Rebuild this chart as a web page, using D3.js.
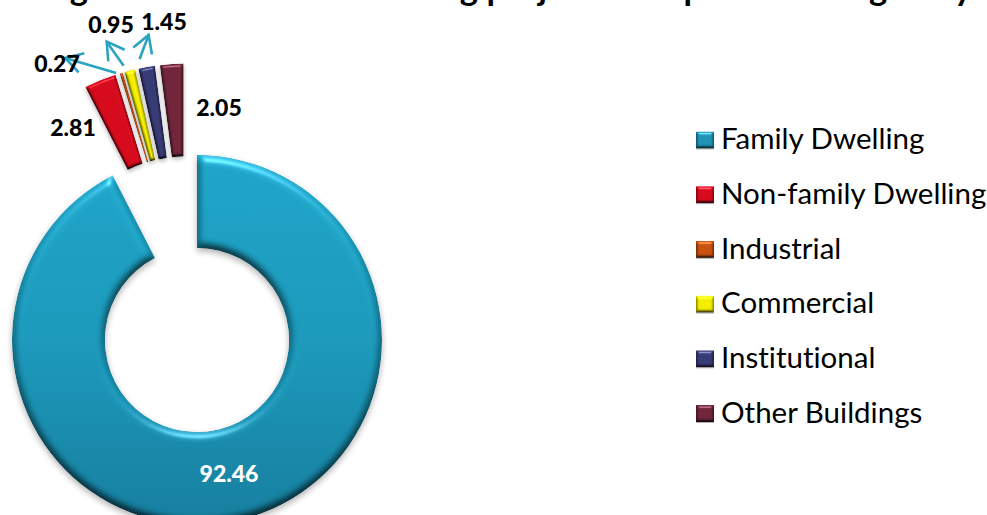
<!DOCTYPE html>
<html>
<head>
<meta charset="utf-8">
<script src="https://cdn.jsdelivr.net/npm/d3@7"></script>
<style>
  html, body { margin: 0; padding: 0; background: #fff; overflow: hidden; }
  svg { display: block; font-family: Lato, "Open Sans", sans-serif; font-variant-ligatures: none; }
</style>
</head>
<body>
<div id="chart"></div>
<script>
// Data
const categories = ['Family Dwelling', 'Non-family Dwelling', 'Industrial', 'Commercial', 'Institutional', 'Other Buildings'];
const values = [92.46, 2.81, 0.27, 0.95, 1.45, 2.05];
const valueLabels = ['92.46', '2.81', '0.27', '0.95', '1.45', '2.05'];
const colors = ['url(#ringFill)', '#d70a1c', '#c9510f', '#f5ef00', '#363a75', '#70243a'];
const keyColors = ['#1f93b4', '#d70a1c', '#c9510f', '#f5ef00', '#363a75', '#70243a'];
const titleText = 'Percentage of construction building projects completed during the year';

const width = 987, height = 515;
const cx = 197, cy = 340, outerR = 185, innerR = 92;

// the small slices are pulled out radially and the whole group moved up-left
const explode = 45, groupDx = -10.5, groupDy = -46.5;

// label centres, same order as categories
const labelPos = [[229, 474], [73, 128], [57, 64], [111, 25], [164, 22], [219, 108]];
// leader arrows: start offset from slice outer edge, then arrow vector
const leaders = {
  2: { start: [-5, 0], vec: [-51, -15] },
  3: { start: [-6, -5], vec: [-17, -24] },
  4: { start: [-7, -8], vec: [9, -24] }
};

const svg = d3.select('#chart').append('svg').attr('width', width).attr('height', height);
const defs = svg.append('defs');

const ringFill = defs.append('linearGradient').attr('id', 'ringFill')
  .attr('gradientUnits', 'userSpaceOnUse')
  .attr('x1', 0).attr('y1', -outerR).attr('x2', 0).attr('y2', outerR);
ringFill.append('stop').attr('offset', 0).attr('stop-color', '#1ea6ca');
ringFill.append('stop').attr('offset', 0.5).attr('stop-color', '#1b9abc');
ringFill.append('stop').attr('offset', 1).attr('stop-color', '#157f9f');

function bevel(id, blur, scale, shadow) {
  const f = defs.append('filter').attr('id', id)
    .attr('color-interpolation-filters', 'sRGB')
    .attr('x', '-15%').attr('y', '-15%').attr('width', '130%').attr('height', '130%');
  f.append('feGaussianBlur').attr('in', 'SourceAlpha').attr('stdDeviation', blur).attr('result', 'blur');
  const diff = f.append('feDiffuseLighting').attr('in', 'blur').attr('surfaceScale', scale)
    .attr('diffuseConstant', 1.12).attr('lighting-color', '#fff').attr('result', 'diff');
  diff.append('feDistantLight').attr('azimuth', 270).attr('elevation', 62);
  f.append('feComposite').attr('in', 'SourceGraphic').attr('in2', 'diff').attr('operator', 'arithmetic')
    .attr('k1', 1).attr('k2', 0).attr('k3', 0).attr('k4', 0).attr('result', 'shaded');
  const spec = f.append('feSpecularLighting').attr('in', 'blur').attr('surfaceScale', scale)
    .attr('specularConstant', 0.35).attr('specularExponent', 30).attr('lighting-color', '#fff').attr('result', 'spec');
  spec.append('feDistantLight').attr('azimuth', 270).attr('elevation', 35);
  f.append('feComposite').attr('in', 'spec').attr('in2', 'SourceAlpha').attr('operator', 'in').attr('result', 'specIn');
  f.append('feComposite').attr('in', 'shaded').attr('in2', 'specIn').attr('operator', 'arithmetic')
    .attr('k1', 0).attr('k2', 1).attr('k3', 1).attr('k4', 0).attr('result', 'lit');
  f.append('feComposite').attr('in', 'lit').attr('in2', 'SourceAlpha').attr('operator', 'in').attr('result', 'litIn');
  f.append('feGaussianBlur').attr('in', 'SourceAlpha').attr('stdDeviation', shadow).attr('result', 'sb');
  f.append('feOffset').attr('in', 'sb').attr('dy', shadow).attr('result', 'so');
  f.append('feComponentTransfer').attr('in', 'so').attr('result', 'sa')
    .append('feFuncA').attr('type', 'linear').attr('slope', 0.3);
  const m = f.append('feMerge');
  m.append('feMergeNode').attr('in', 'sa');
  m.append('feMergeNode').attr('in', 'litIn');
}
bevel('bevelBig', 4, 5, 3);
bevel('bevelSmall', 1.8, 3, 2);
bevel('bevelKey', 1.5, 2.5, 0.6);

// Title, cut off by the top of the frame like in the source image
svg.append('text')
  .attr('x', -66).attr('y', 0)
  .attr('font-size', 34.5).attr('font-weight', 700).attr('fill', '#000')
  .text(titleText);

const arcs = d3.pie().sort(null).value(d => d)(values);
const arc = d3.arc().innerRadius(innerR).outerRadius(outerR);

const ring = svg.append('g').attr('transform', `translate(${cx},${cy})`);

const offsetOf = (d, i) => {
  if (i === 0) return [0, 0];
  const mid = (d.startAngle + d.endAngle) / 2 - 2 * Math.PI;
  return [groupDx + explode * Math.sin(mid), groupDy - explode * Math.cos(mid)];
};

ring.selectAll('path')
  .data(arcs)
  .enter()
  .append('path')
  .attr('d', arc)
  .attr('transform', (d, i) => `translate(${offsetOf(d, i).join(',')})`)
  .attr('fill', (d, i) => colors[i])
  .attr('filter', (d, i) => (i === 0 ? 'url(#bevelBig)' : 'url(#bevelSmall)'));

// Leader arrows
defs.append('marker').attr('id', 'openArrow')
  .attr('markerUnits', 'userSpaceOnUse')
  .attr('viewBox', '-22 -14 26 28').attr('markerWidth', 26).attr('markerHeight', 28)
  .attr('refX', 0).attr('refY', 0).attr('orient', 'auto')
  .append('path').attr('d', 'M-17,-10L0,0L-17,10')
  .attr('fill', 'none').attr('stroke', '#2ba4bf').attr('stroke-width', 2.6);

Object.keys(leaders).forEach(k => {
  const i = +k, d = arcs[i], off = offsetOf(d, i);
  const mid = (d.startAngle + d.endAngle) / 2;
  const x0 = cx + off[0] + outerR * Math.sin(mid) + leaders[k].start[0];
  const y0 = cy + off[1] - outerR * Math.cos(mid) + leaders[k].start[1];
  svg.append('line')
    .attr('x1', x0).attr('y1', y0)
    .attr('x2', x0 + leaders[k].vec[0]).attr('y2', y0 + leaders[k].vec[1])
    .attr('stroke', '#2ba4bf').attr('stroke-width', 2.6)
    .attr('marker-end', 'url(#openArrow)');
});

// Value labels
svg.append('g').selectAll('text')
  .data(valueLabels)
  .enter()
  .append('text')
  .attr('x', (d, i) => labelPos[i][0])
  .attr('y', (d, i) => labelPos[i][1])
  .attr('dy', '0.35em')
  .attr('text-anchor', 'middle')
  .attr('font-size', 23).attr('font-weight', 900)
  .attr('fill', (d, i) => (i === 0 ? '#fff' : '#000'))
  .text(d => d);

// Legend
const legendY = d3.scalePoint().domain(categories).range([140, 413.5]);
const legend = svg.append('g').selectAll('g')
  .data(categories)
  .enter()
  .append('g')
  .attr('transform', d => `translate(696,${legendY(d)})`);

legend.append('rect')
  .attr('x', 0).attr('y', -8.5).attr('width', 18).attr('height', 17)
  .attr('fill', (d, i) => keyColors[i])
  .attr('filter', 'url(#bevelKey)');

legend.append('text')
  .attr('x', 25).attr('y', -1).attr('dy', '0.35em')
  .attr('font-size', 29.5).attr('fill', '#000')
  .text(d => d);
</script>
</body>
</html>
